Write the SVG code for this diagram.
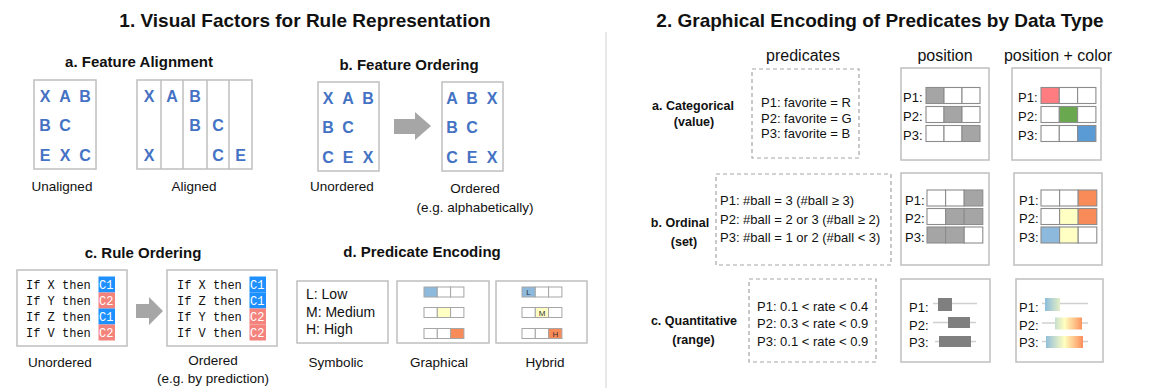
<svg xmlns="http://www.w3.org/2000/svg" width="1153" height="390" viewBox="0 0 1153 390">
<style>
text{font-family:"Liberation Sans",Arial,sans-serif;fill:#111}
.h1{font-size:19px;font-weight:bold;text-anchor:middle}
.h2{font-size:15px;font-weight:bold;text-anchor:middle}
.lbl{font-size:13.5px;text-anchor:middle}
.ltr{font-size:16px;font-weight:bold;fill:#4472C4;text-anchor:middle}
.box{fill:#fff;stroke:#BFBFBF;stroke-width:1.5}
.dash{fill:none;stroke:#A6A6A6;stroke-width:1.2;stroke-dasharray:4 3}
.mono{font-family:"Liberation Mono","Courier New",monospace;font-size:12px}
.bt{fill:#fff}
.c1{fill:#1E90FF}
.c2{fill:#F4837D}
.arr{fill:#A6A6A6}
.sm{font-size:13px}
.hd{font-size:16px;text-anchor:middle}
.cat{font-size:12.5px;font-weight:bold;text-anchor:middle}
.cell{stroke:#8C8C8C;stroke-width:1.1}
.w{fill:#fff}
.g{fill:#A5A5A5}
.bc{stroke:#A6A6A6;stroke-width:1}
.tl{font-size:8px;text-anchor:middle;fill:#333}
.wh{stroke:#D0D0D0;stroke-width:1.5}
</style>
<defs>
<linearGradient id="rg" gradientUnits="userSpaceOnUse" x1="1046" y1="0" x2="1083" y2="0">
<stop offset="0" stop-color="#91BFDB"/>
<stop offset="0.5" stop-color="#FFFFBF"/>
<stop offset="1" stop-color="#FC8D59"/>
</linearGradient>
</defs>
<text class="h1" x="305" y="27">1. Visual Factors for Rule Representation</text>
<text class="h1" x="880" y="27">2. Graphical Encoding of Predicates by Data Type</text>
<line x1="606" y1="32" x2="606" y2="388" stroke="#D9D9D9" stroke-width="1.2"/>

<g id="feature-alignment">
<text class="h2" x="139" y="67">a. Feature Alignment</text>
<rect class="box" x="34" y="80" width="62" height="89"/>
<text class="ltr" x="45" y="101.7">X</text><text class="ltr" x="65" y="101.7">A</text><text class="ltr" x="85" y="101.7">B</text>
<text class="ltr" x="45" y="130.7">B</text><text class="ltr" x="65" y="130.7">C</text>
<text class="ltr" x="45" y="160.7">E</text><text class="ltr" x="65" y="160.7">X</text><text class="ltr" x="85" y="160.7">C</text>
<rect class="box" x="137" y="80" width="115" height="89"/>
<path d="M161 80V169M183 80V169M207 80V169M229 80V169" stroke="#BFBFBF" stroke-width="1.5"/>
<text class="ltr" x="149" y="101.7">X</text><text class="ltr" x="172" y="101.7">A</text><text class="ltr" x="195" y="101.7">B</text>
<text class="ltr" x="195" y="130.7">B</text><text class="ltr" x="218" y="130.7">C</text>
<text class="ltr" x="149" y="160.7">X</text><text class="ltr" x="218" y="160.7">C</text><text class="ltr" x="240.5" y="160.7">E</text>
<text class="lbl" x="62" y="190.5">Unaligned</text>
<text class="lbl" x="194" y="190.5">Aligned</text>
</g>

<g id="feature-ordering">
<text class="h2" x="409" y="69.5">b. Feature Ordering</text>
<rect class="box" x="318" y="82" width="61" height="89"/>
<text class="ltr" x="328" y="103.7">X</text><text class="ltr" x="348" y="103.7">A</text><text class="ltr" x="368" y="103.7">B</text>
<text class="ltr" x="328" y="132.7">B</text><text class="ltr" x="348" y="132.7">C</text>
<text class="ltr" x="328" y="162.7">C</text><text class="ltr" x="348" y="162.7">E</text><text class="ltr" x="368" y="162.7">X</text>
<polygon class="arr" points="394,119 415,119 415,112 431,126 415,140 415,134 394,134"/>
<rect class="box" x="442" y="82" width="61" height="89"/>
<text class="ltr" x="452" y="103.7">A</text><text class="ltr" x="472" y="103.7">B</text><text class="ltr" x="492" y="103.7">X</text>
<text class="ltr" x="452" y="132.7">B</text><text class="ltr" x="472" y="132.7">C</text>
<text class="ltr" x="452" y="162.7">C</text><text class="ltr" x="472" y="162.7">E</text><text class="ltr" x="492" y="162.7">X</text>
<text class="lbl" x="342" y="190.5">Unordered</text>
<text class="lbl" x="475" y="193">Ordered</text>
<text class="lbl" x="475" y="211.5">(e.g. alphabetically)</text>
</g>

<g id="rule-ordering">
<text class="h2" x="143" y="258.3">c. Rule Ordering</text>
<rect class="box" x="17" y="270" width="110" height="76"/>
<rect class="c1" x="98.5" y="276.5" width="16.5" height="16"/>
<rect class="c2" x="98.5" y="292.5" width="16.5" height="16"/>
<rect class="c1" x="98.5" y="308.5" width="16.5" height="16"/>
<rect class="c2" x="98.5" y="324.5" width="16.5" height="16"/>
<text class="mono" x="26" y="288.5">If X then</text><text class="mono bt" x="99" y="288.5">C1</text>
<text class="mono" x="26" y="304.5">If Y then</text><text class="mono bt" x="99" y="304.5">C2</text>
<text class="mono" x="26" y="320.5">If Z then</text><text class="mono bt" x="99" y="320.5">C1</text>
<text class="mono" x="26" y="336.5">If V then</text><text class="mono bt" x="99" y="336.5">C2</text>
<polygon class="arr" points="136,304 149,304 149,297 163,311 149,325 149,318 136,318"/>
<rect class="box" x="167" y="270" width="110" height="76"/>
<rect class="c1" x="249.5" y="276.5" width="16.5" height="16"/>
<rect class="c1" x="249.5" y="292.5" width="16.5" height="16"/>
<rect class="c2" x="249.5" y="308.5" width="16.5" height="16"/>
<rect class="c2" x="249.5" y="324.5" width="16.5" height="16"/>
<text class="mono" x="177" y="288.5">If X then</text><text class="mono bt" x="250" y="288.5">C1</text>
<text class="mono" x="177" y="304.5">If Z then</text><text class="mono bt" x="250" y="304.5">C1</text>
<text class="mono" x="177" y="320.5">If Y then</text><text class="mono bt" x="250" y="320.5">C2</text>
<text class="mono" x="177" y="336.5">If V then</text><text class="mono bt" x="250" y="336.5">C2</text>
<text class="lbl" x="60" y="366.5">Unordered</text>
<text class="lbl" x="213" y="365">Ordered</text>
<text class="lbl" x="213" y="383">(e.g. by prediction)</text>
</g>

<g id="predicate-encoding">
<text class="h2" x="422" y="257.3">d. Predicate Encoding</text>
<rect class="box" x="297" y="281" width="91" height="62"/>
<text x="306" y="299" font-size="14">L: Low</text>
<text x="306" y="317.3" font-size="14">M: Medium</text>
<text x="306" y="334.3" font-size="14">H: High</text>
<rect class="box" x="397" y="281" width="92" height="62"/>
<rect class="bc" x="424" y="287" width="13.3" height="10" fill="#8DB9DC"/><rect class="bc w" x="437.3" y="287" width="13.3" height="10"/><rect class="bc w" x="450.6" y="287" width="13.3" height="10"/>
<rect class="bc w" x="424" y="307.5" width="13.3" height="10"/><rect class="bc" x="437.3" y="307.5" width="13.3" height="10" fill="#FFFFC4"/><rect class="bc w" x="450.6" y="307.5" width="13.3" height="10"/>
<rect class="bc w" x="424" y="328.5" width="13.3" height="10"/><rect class="bc w" x="437.3" y="328.5" width="13.3" height="10"/><rect class="bc" x="450.6" y="328.5" width="13.3" height="10" fill="#F98B58"/>
<rect class="box" x="496" y="281" width="91" height="62"/>
<rect class="bc" x="522" y="287" width="13.3" height="10" fill="#8DB9DC"/><rect class="bc w" x="535.3" y="287" width="13.3" height="10"/><rect class="bc w" x="548.6" y="287" width="13.3" height="10"/>
<text class="tl" x="528.6" y="295">L</text>
<rect class="bc w" x="522" y="307.5" width="13.3" height="10"/><rect class="bc" x="535.3" y="307.5" width="13.3" height="10" fill="#FFFFC4"/><rect class="bc w" x="548.6" y="307.5" width="13.3" height="10"/>
<text class="tl" x="542" y="315.5">M</text>
<rect class="bc w" x="522" y="328.5" width="13.3" height="10"/><rect class="bc w" x="535.3" y="328.5" width="13.3" height="10"/><rect class="bc" x="548.6" y="328.5" width="13.3" height="10" fill="#F98B58"/>
<text class="tl" x="555.3" y="336.5">H</text>
<text class="lbl" x="336" y="366.7">Symbolic</text>
<text class="lbl" x="439" y="366.7">Graphical</text>
<text class="lbl" x="545" y="366.7">Hybrid</text>
</g>

<g id="column-headers">
<text class="hd" x="803" y="60.7">predicates</text>
<text class="hd" x="945" y="60.7">position</text>
<text class="hd" x="1058" y="60.7">position + color</text>
</g>

<g id="categorical">
<text class="cat" x="693" y="110">a. Categorical</text>
<text class="cat" x="694" y="125.5">(value)</text>
<rect class="dash" x="752" y="69" width="107" height="89"/>
<text class="sm" x="761" y="106.5">P1: favorite = R</text>
<text class="sm" x="761" y="122.5">P2: favorite = G</text>
<text class="sm" x="761" y="138">P3: favorite = B</text>
<rect class="box" x="901" y="68" width="88" height="92"/>
<text class="sm" x="903" y="101.5">P1:</text><text class="sm" x="903" y="121">P2:</text><text class="sm" x="903" y="140">P3:</text>
<rect class="cell g" x="926" y="87.5" width="18" height="16"/><rect class="cell w" x="944" y="87.5" width="18" height="16"/><rect class="cell w" x="962" y="87.5" width="18" height="16"/>
<rect class="cell w" x="926" y="106.5" width="18" height="16"/><rect class="cell g" x="944" y="106.5" width="18" height="16"/><rect class="cell w" x="962" y="106.5" width="18" height="16"/>
<rect class="cell w" x="926" y="125.5" width="18" height="16"/><rect class="cell w" x="944" y="125.5" width="18" height="16"/><rect class="cell g" x="962" y="125.5" width="18" height="16"/>
<rect class="box" x="1012" y="68" width="89" height="92"/>
<text class="sm" x="1018" y="101.5">P1:</text><text class="sm" x="1018" y="121">P2:</text><text class="sm" x="1018" y="140">P3:</text>
<rect class="cell" x="1041" y="87.5" width="18.3" height="16" fill="#FF7C80"/><rect class="cell w" x="1059.3" y="87.5" width="18.3" height="16"/><rect class="cell w" x="1077.6" y="87.5" width="18.3" height="16"/>
<rect class="cell w" x="1041" y="106.5" width="18.3" height="16"/><rect class="cell" x="1059.3" y="106.5" width="18.3" height="16" fill="#6AA84F"/><rect class="cell w" x="1077.6" y="106.5" width="18.3" height="16"/>
<rect class="cell w" x="1041" y="125.5" width="18.3" height="16"/><rect class="cell w" x="1059.3" y="125.5" width="18.3" height="16"/><rect class="cell" x="1077.6" y="125.5" width="18.3" height="16" fill="#5B9BD5"/>
</g>

<g id="ordinal">
<text class="cat" x="680" y="226.5">b. Ordinal</text>
<text class="cat" x="684" y="246">(set)</text>
<rect class="dash" x="716" y="174" width="175" height="91"/>
<text class="sm" x="720" y="204.5">P1: #ball = 3 (#ball ≥ 3)</text>
<text class="sm" x="720" y="223.5">P2: #ball = 2 or 3 (#ball ≥ 2)</text>
<text class="sm" x="720" y="242">P3: #ball = 1 or 2 (#ball &lt; 3)</text>
<rect class="box" x="901" y="173" width="88" height="92"/>
<text class="sm" x="905" y="205">P1:</text><text class="sm" x="905" y="223">P2:</text><text class="sm" x="905" y="241.5">P3:</text>
<rect class="cell w" x="927" y="190" width="18.6" height="16"/><rect class="cell w" x="945.6" y="190" width="18.6" height="16"/><rect class="cell g" x="964.2" y="190" width="18.6" height="16"/>
<rect class="cell w" x="927" y="208.5" width="18.6" height="16"/><rect class="cell g" x="945.6" y="208.5" width="18.6" height="16"/><rect class="cell g" x="964.2" y="208.5" width="18.6" height="16"/>
<rect class="cell g" x="927" y="227" width="18.6" height="16"/><rect class="cell g" x="945.6" y="227" width="18.6" height="16"/><rect class="cell w" x="964.2" y="227" width="18.6" height="16"/>
<rect class="box" x="1014" y="173" width="88" height="92"/>
<text class="sm" x="1019" y="205">P1:</text><text class="sm" x="1019" y="223">P2:</text><text class="sm" x="1019" y="241.5">P3:</text>
<rect class="cell w" x="1041" y="190" width="18.6" height="16"/><rect class="cell w" x="1059.6" y="190" width="18.6" height="16"/><rect class="cell" x="1078.2" y="190" width="18.6" height="16" fill="#F98B58"/>
<rect class="cell w" x="1041" y="208.5" width="18.6" height="16"/><rect class="cell" x="1059.6" y="208.5" width="18.6" height="16" fill="#FFFFC4"/><rect class="cell" x="1078.2" y="208.5" width="18.6" height="16" fill="#F98B58"/>
<rect class="cell" x="1041" y="227" width="18.6" height="16" fill="#8DB9DC"/><rect class="cell" x="1059.6" y="227" width="18.6" height="16" fill="#FFFFC4"/><rect class="cell w" x="1078.2" y="227" width="18.6" height="16"/>
</g>

<g id="quantitative">
<text class="cat" x="694" y="325">c. Quantitative</text>
<text class="cat" x="693.5" y="344">(range)</text>
<rect class="dash" x="749" y="279" width="127" height="83"/>
<text class="sm" x="757" y="310.5">P1: 0.1 &lt; rate &lt; 0.4</text>
<text class="sm" x="757" y="328">P2: 0.3 &lt; rate &lt; 0.9</text>
<text class="sm" x="757" y="346">P3: 0.1 &lt; rate &lt; 0.9</text>
<rect class="box" x="901" y="279" width="89" height="83"/>
<text class="sm" x="909" y="311.5">P1:</text><text class="sm" x="909" y="330">P2:</text><text class="sm" x="909" y="347">P3:</text>
<line class="wh" x1="933" y1="303.5" x2="977" y2="303.5"/>
<rect x="938" y="298" width="14" height="13" fill="#7F7F7F"/>
<line class="wh" x1="933" y1="322.5" x2="976" y2="322.5"/>
<rect x="948" y="317" width="22" height="11" fill="#7F7F7F"/>
<line class="wh" x1="935" y1="341.5" x2="976" y2="341.5"/>
<rect x="939" y="336" width="32" height="11" fill="#7F7F7F"/>
<rect class="box" x="1016" y="279" width="87" height="83"/>
<text class="sm" x="1019" y="311.5">P1:</text><text class="sm" x="1019" y="330">P2:</text><text class="sm" x="1019" y="347">P3:</text>
<line class="wh" x1="1042" y1="303.5" x2="1088" y2="303.5"/>
<rect x="1045" y="298" width="15" height="13" fill="url(#rg)"/>
<line class="wh" x1="1042" y1="323" x2="1088" y2="323"/>
<rect x="1055" y="317.5" width="27" height="12" fill="url(#rg)"/>
<line class="wh" x1="1042" y1="341.5" x2="1088" y2="341.5"/>
<rect x="1046" y="336" width="37" height="12" fill="url(#rg)"/>
</g>
</svg>
